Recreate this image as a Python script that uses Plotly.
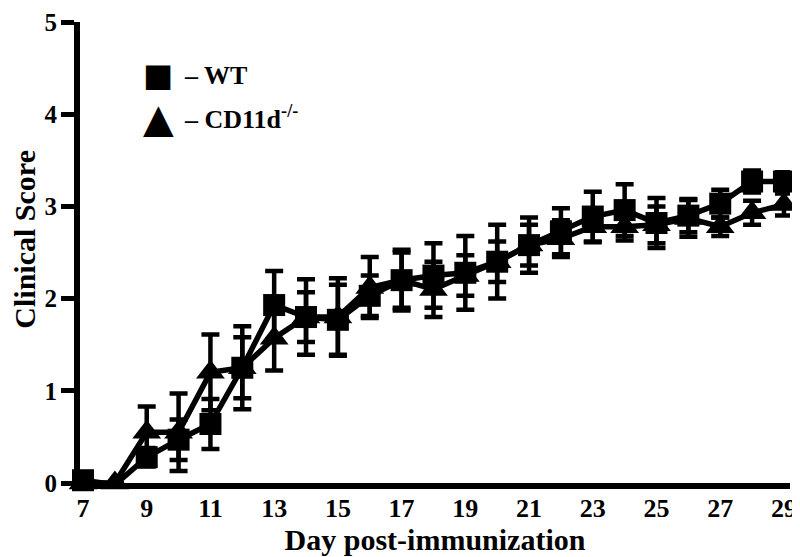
import plotly.graph_objects as go

days = list(range(7, 30))
wt = [0.03, -0.02, 0.28, 0.47, 0.64, 1.25, 1.93, 1.80, 1.77, 2.03, 2.20, 2.25,
      2.28, 2.40, 2.58, 2.73, 2.89, 2.96, 2.82, 2.90, 3.03, 3.27, 3.27]
wt_sem = [0.0, 0.0, 0.10, 0.22, 0.27, 0.45, 0.37, 0.27, 0.38, 0.22, 0.33, 0.35,
          0.40, 0.40, 0.30, 0.25, 0.27, 0.28, 0.27, 0.18, 0.15, 0.12, 0.10]
ko = [0.0, 0.0, 0.55, 0.55, 1.20, 1.25, 1.57, 1.80, 1.80, 2.12, 2.20, 2.10,
      2.25, 2.40, 2.58, 2.65, 2.78, 2.78, 2.80, 2.87, 2.78, 2.93, 3.02]
ko_sem = [0.0, 0.0, 0.28, 0.42, 0.41, 0.33, 0.35, 0.41, 0.42, 0.33, 0.30, 0.30,
          0.22, 0.22, 0.22, 0.20, 0.17, 0.15, 0.20, 0.20, 0.10, 0.13, 0.12]
x_ticks = list(range(7, 30, 2))
y_ticks = [0, 1, 2, 3, 4, 5]
legend_labels = ["\u2013 WT", "\u2013 CD11d<sup>-/-</sup>"]
legend_glyphs = ["\u25A0", "\u25B2"]

FONT = "Liberation Serif"

fig = go.Figure()
fig.add_trace(go.Scatter(
    x=days, y=ko, mode="lines+markers", name="CD11d-/-",
    line=dict(color="black", width=5.5),
    marker=dict(symbol="triangle-up", size=25, color="black"),
    error_y=dict(type="data", array=ko_sem, color="black", thickness=4.5, width=9),
    cliponaxis=False, showlegend=False,
))
fig.add_trace(go.Scatter(
    x=days, y=wt, mode="lines+markers", name="WT",
    line=dict(color="black", width=5.5),
    marker=dict(symbol="square", size=22, color="black"),
    error_y=dict(type="data", array=wt_sem, color="black", thickness=4.5, width=9),
    cliponaxis=False, showlegend=False,
))

# legend drawn as text (glyph + label)
leg_y = [0.885, 0.792]
glyph_sizes = [32, 40]
for lab, gl, yy, gs in zip(legend_labels, legend_glyphs, leg_y, glyph_sizes):
    fig.add_annotation(xref="paper", yref="paper", x=0.110, y=yy,
                       text=gl, showarrow=False, xanchor="center", yanchor="middle",
                       font=dict(family="DejaVu Sans", size=gs, color="black"))
    fig.add_annotation(xref="paper", yref="paper", x=0.143, y=yy,
                       text=lab, showarrow=False, xanchor="left", yanchor="middle",
                       font=dict(family=FONT, size=26, color="black", weight="bold"))

# y-axis title as rotated text
fig.add_annotation(xref="paper", yref="paper", x=-0.0775, y=0.53,
                   text="Clinical Score", textangle=-90, showarrow=False,
                   xanchor="center", yanchor="middle",
                   font=dict(family=FONT, size=30, color="black", weight="bold"))

fig.update_layout(
    width=792, height=549,
    margin=dict(l=72, r=10, t=14, b=74),
    plot_bgcolor="white", paper_bgcolor="white",
    font=dict(family=FONT, color="black", size=22),
    showlegend=False,
    xaxis=dict(range=[6.906, 29.19], tickvals=x_ticks, ticks="",
               showline=True, linecolor="black", linewidth=6,
               showgrid=False, zeroline=False, automargin=False,
               tickfont=dict(family=FONT, size=26, weight="bold"),
               ticklabelstandoff=-3, ticklabeloverflow="allow",
               title=dict(text="Day post-immunization", standoff=0,
                          font=dict(family=FONT, size=30, weight="bold"))),
    yaxis=dict(range=[0, 5], tickvals=y_ticks, ticks="outside", ticklen=13,
               tickwidth=5, tickcolor="black",
               showline=True, linecolor="black", linewidth=6,
               showgrid=False, zeroline=False, automargin=False,
               tickfont=dict(family=FONT, size=25, weight="bold"),
               ticklabelstandoff=-1, ticklabeloverflow="allow"),
)

fig.write_html("out.html")
